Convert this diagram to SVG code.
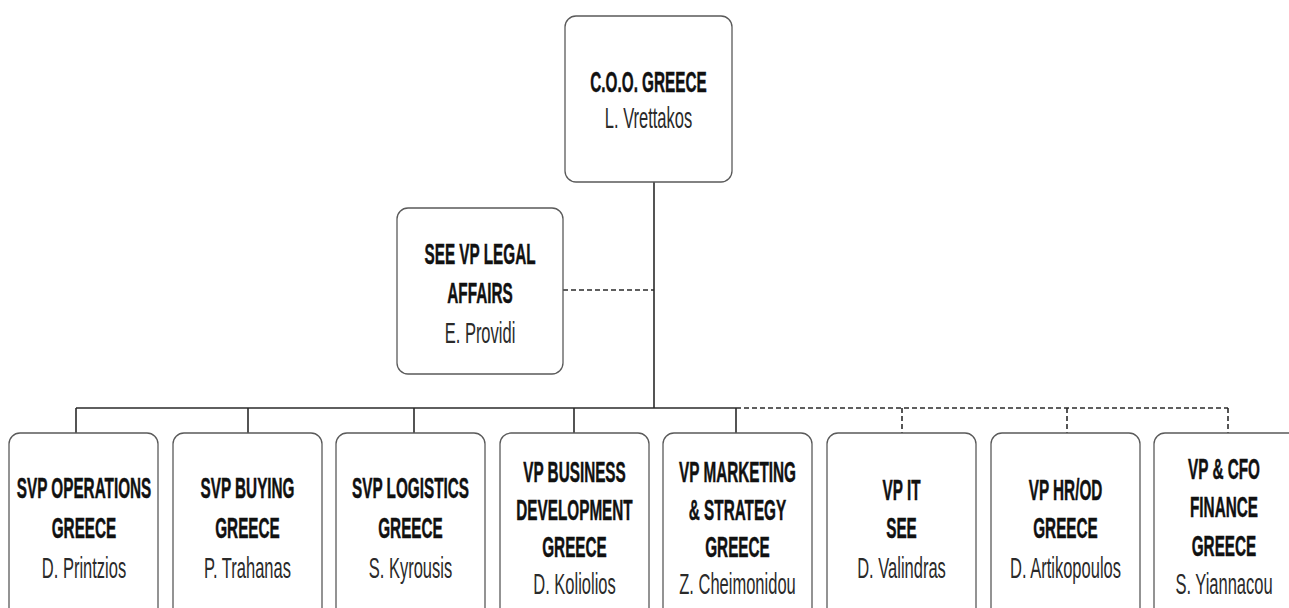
<svg xmlns="http://www.w3.org/2000/svg" width="1289" height="608" viewBox="0 0 1289 608">
<style>
.box{fill:#fff;stroke:#5a5a5a;stroke-width:1.3}
.ln{fill:none;stroke:#2b2b2b;stroke-width:1.6}
.dash{fill:none;stroke:#2b2b2b;stroke-width:1.6;stroke-dasharray:5,3}
text{font-family:"Liberation Sans",Arial,sans-serif;font-size:30px;text-anchor:middle}
.b{font-weight:bold;fill:#111;stroke:#111;stroke-width:0.5}
.r{fill:#2a2a2a}
</style>
<rect width="1289" height="608" fill="#fff"/>
<g id="connectors">
<path class="ln" d="M654 182V408M76 408H736M76 408V433M248 408V433M414 408V433M574 408V433M736 408V433"/>
<path class="dash" d="M563 290H654M736 408H1228M902 408V433M1067 408V433M1228 408V433"/>
</g>
<g id="coo">
<rect class="box" x="565" y="16" width="167" height="166" rx="11"/>
<text class="b" transform="translate(648.5,92) scale(0.51,1)">C.O.O. GREECE</text>
<text class="r" transform="translate(648.5,128) scale(0.55,1)">L. Vrettakos</text>
</g>
<g id="legal">
<rect class="box" x="397" y="208" width="166" height="166" rx="11"/>
<text class="b" transform="translate(480,264) scale(0.51,1)">SEE VP LEGAL</text>
<text class="b" transform="translate(480,303) scale(0.51,1)">AFFAIRS</text>
<text class="r" transform="translate(480,343) scale(0.55,1)">E. Providi</text>
</g>
<g id="operations">
<rect class="box" x="9" y="433" width="149" height="200" rx="11"/>
<text class="b" transform="translate(84,498) scale(0.51,1)">SVP OPERATIONS</text>
<text class="b" transform="translate(84,538) scale(0.51,1)">GREECE</text>
<text class="r" transform="translate(84,578) scale(0.55,1)">D. Printzios</text>
</g>
<g id="buying">
<rect class="box" x="173" y="433" width="149" height="200" rx="11"/>
<text class="b" transform="translate(247.5,498) scale(0.51,1)">SVP BUYING</text>
<text class="b" transform="translate(247.5,538) scale(0.51,1)">GREECE</text>
<text class="r" transform="translate(247.5,578) scale(0.55,1)">P. Trahanas</text>
</g>
<g id="logistics">
<rect class="box" x="336" y="433" width="149" height="200" rx="11"/>
<text class="b" transform="translate(410.5,498) scale(0.51,1)">SVP LOGISTICS</text>
<text class="b" transform="translate(410.5,538) scale(0.51,1)">GREECE</text>
<text class="r" transform="translate(410.5,578) scale(0.55,1)">S. Kyrousis</text>
</g>
<g id="bizdev">
<rect class="box" x="500" y="433" width="149" height="200" rx="11"/>
<text class="b" transform="translate(574.5,482) scale(0.51,1)">VP BUSINESS</text>
<text class="b" transform="translate(574.5,520) scale(0.51,1)">DEVELOPMENT</text>
<text class="b" transform="translate(574.5,557) scale(0.51,1)">GREECE</text>
<text class="r" transform="translate(574.5,594) scale(0.55,1)">D. Koliolios</text>
</g>
<g id="marketing">
<rect class="box" x="663" y="433" width="149" height="200" rx="11"/>
<text class="b" transform="translate(737.5,482) scale(0.51,1)">VP MARKETING</text>
<text class="b" transform="translate(737.5,520) scale(0.51,1)">&amp; STRATEGY</text>
<text class="b" transform="translate(737.5,557) scale(0.51,1)">GREECE</text>
<text class="r" transform="translate(737.5,594) scale(0.55,1)">Z. Cheimonidou</text>
</g>
<g id="it">
<rect class="box" x="827" y="433" width="149" height="200" rx="11"/>
<text class="b" transform="translate(901.5,500) scale(0.51,1)">VP IT</text>
<text class="b" transform="translate(901.5,538) scale(0.51,1)">SEE</text>
<text class="r" transform="translate(901.5,578) scale(0.55,1)">D. Valindras</text>
</g>
<g id="hr">
<rect class="box" x="991" y="433" width="149" height="200" rx="11"/>
<text class="b" transform="translate(1065.5,500) scale(0.51,1)">VP HR/OD</text>
<text class="b" transform="translate(1065.5,538) scale(0.51,1)">GREECE</text>
<text class="r" transform="translate(1065.5,578) scale(0.55,1)">D. Artikopoulos</text>
</g>
<g id="finance">
<rect class="box" x="1154" y="433" width="160" height="200" rx="11"/>
<text class="b" transform="translate(1224,479) scale(0.51,1)">VP &amp; CFO</text>
<text class="b" transform="translate(1224,517) scale(0.51,1)">FINANCE</text>
<text class="b" transform="translate(1224,556) scale(0.51,1)">GREECE</text>
<text class="r" transform="translate(1224,594) scale(0.55,1)">S. Yiannacou</text>
</g>
</svg>
